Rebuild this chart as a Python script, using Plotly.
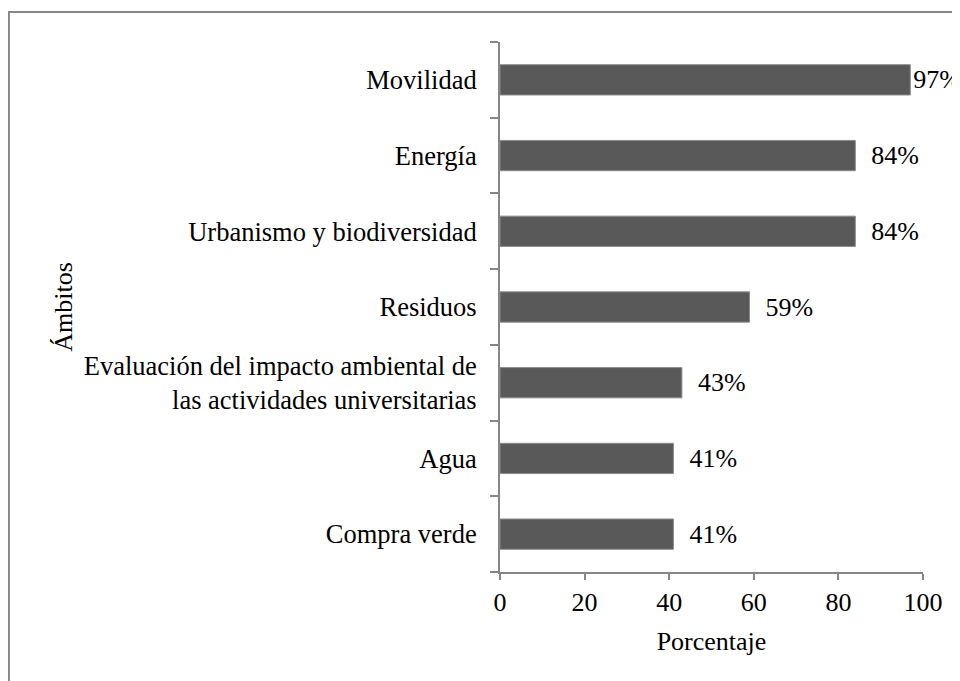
import plotly.graph_objects as go

# Ámbitos y porcentajes (de abajo hacia arriba)
ambitos = ["Compra verde", "Agua",
           "Evaluación del impacto ambiental de<br>las actividades universitarias",
           "Residuos", "Urbanismo y biodiversidad", "Energía", "Movilidad"]
porcentajes = [41, 41, 43, 59, 84, 84, 97]
etiquetas = ["  41%", "  41%", "  43%", "  59%", "  84%", "  84%", "97%"]

fig = go.Figure(go.Bar(
    y=ambitos, x=porcentajes, orientation="h",
    marker=dict(color="#595959", line=dict(color="#8c8c8c", width=1)),
    width=0.4,
    text=etiquetas, textposition="outside", cliponaxis=False,
    textfont=dict(size=26, color="#000000"),
))

fig.update_layout(
    width=960, height=681,
    margin=dict(l=492, r=45, t=34, b=117),
    plot_bgcolor="white", paper_bgcolor="white",
    font=dict(family="Liberation Serif", size=26, color="#000000"),
    showlegend=False,
    xaxis=dict(range=[0, 100], dtick=20, showgrid=False, zeroline=False,
               showline=True, linecolor="#868686", linewidth=2,
               ticks="outside", ticklen=6, tickcolor="#868686", tickwidth=2,
               tickfont=dict(size=26),
               title=dict(text="Porcentaje", standoff=16, font=dict(size=26))),
    yaxis=dict(showgrid=False, showline=True, linecolor="#868686", linewidth=2,
               ticks="outside", ticklen=8, tickcolor="#868686", tickwidth=2,
               tickson="boundaries", ticklabelstandoff=16,
               tickfont=dict(size=26.5),
               title=dict(text="Ámbitos", standoff=4, font=dict(size=26))),
)

# marco del gráfico
fig.add_shape(type="rect", xref="paper", yref="paper",
              x0=-1.161, x1=1.3, y0=-0.3, y1=1.0566,
              line=dict(color="#868686", width=2), layer="below")

fig.write_html("out.html")
